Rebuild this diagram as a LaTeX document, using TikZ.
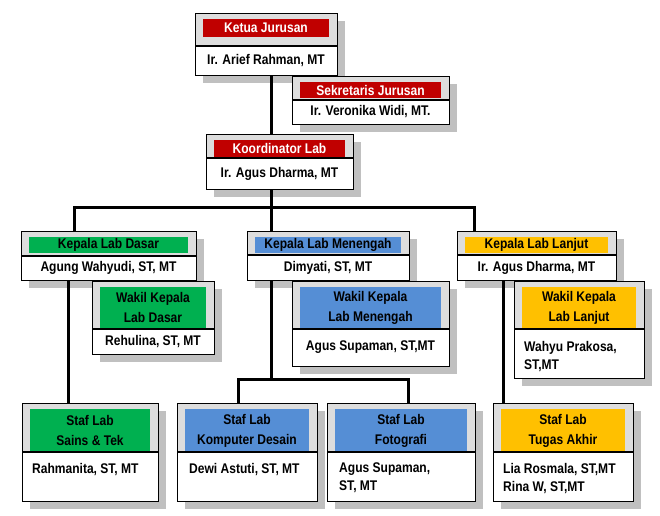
\documentclass[tikz,border=0pt]{standalone}
\usepackage{fontspec}
\setmainfont{Liberation Sans}[FakeStretch=0.86]
\definecolor{redbar}{HTML}{C00000}
\definecolor{greenbar}{HTML}{00B050}
\definecolor{bluebar}{HTML}{558ED5}
\definecolor{yellowbar}{HTML}{FFC000}
\definecolor{headgray}{HTML}{DDDDDD}
\definecolor{shadowgray}{HTML}{C0C0C0}
\pgfdeclarelayer{shadowlayer}
\pgfdeclarelayer{linelayer}
\pgfsetlayers{shadowlayer,linelayer,main}
\tikzset{
  boxframe/.style={draw=black, line width=1.3pt, inner sep=0pt, anchor=north west},
  conn/.style={draw=black, line width=3pt, line cap=rect, line join=miter},
  headtxt/.style={font=\fontsize{14}{20}\selectfont\bfseries, align=center, inner sep=0pt},
  bodytxt/.style={font=\fontsize{14}{18}\selectfont\bfseries, align=center, inner sep=0pt},
  bodyleft/.style={font=\fontsize{14}{18}\selectfont\bfseries, align=left, inner sep=0pt, anchor=north west},
}
% #1 name, #2 x1, #3 y1, #4 x2, #5 ydiv, #6 y2, #7 bar bottom, #8 bar colour, #9 header text
\newcommand\orgbox[9]{%
  \begin{pgfonlayer}{shadowlayer}
    \fill[shadowgray] (#2+8,#3+8) rectangle (#4+8,#6+8);
  \end{pgfonlayer}
  \fill[white] (#2,#3) rectangle (#4,#6);
  \fill[headgray] (#2,#3) rectangle (#4,#5);
  \fill[#8] (#2+8,#3+6) rectangle (#4-8,#7);
  \draw[line width=1.3pt] (#2,#5) -- (#4,#5);
  \node[headtxt] (#1-h) at ({(#2+#4)/2},{(#3+6+#7)/2}) {#9};
  \node[boxframe, minimum width={(#4-#2)*1pt}, minimum height={(#6-#3)*1pt}] (#1) at (#2,#3) {};
}
\begin{document}
\begin{tikzpicture}[x=1pt,y=-1pt]
\useasboundingbox (0,0) rectangle (660,515);

% boxes
\orgbox{ketua}{195}{13}{337}{46}{75}{37}{redbar}{\color{white}Ketua Jurusan}
\node[bodytxt] (ketua-b) at (266,60.5) {Ir. Arief Rahman, MT};

\orgbox{sekretaris}{292}{76}{449}{100}{124}{98}{redbar}{\color{white}Sekretaris Jurusan}
\node[bodytxt] (sekretaris-b) at (370.5,112) {Ir. Veronika Widi, MT.};

\orgbox{koord}{206}{134}{353}{158}{189}{157}{redbar}{\color{white}Koordinator Lab}
\node[bodytxt] (koord-b) at (279.5,173.5) {Ir. Agus Dharma, MT};

\orgbox{dasar}{21}{231}{196}{256}{280}{253}{greenbar}{Kepala Lab Dasar}
\node[bodytxt] (dasar-b) at (108.5,268) {Agung Wahyudi, ST, MT};

\orgbox{wdasar}{92}{281}{214}{329}{354}{328}{greenbar}{Wakil Kepala\\Lab Dasar}
\node[bodytxt] (wdasar-b) at (153,341.5) {Rehulina, ST, MT};

\orgbox{menengah}{247}{231}{409}{255}{280}{253}{bluebar}{Kepala Lab Menengah}
\node[bodytxt] (menengah-b) at (328,267.5) {Dimyati, ST, MT};

\orgbox{wmenengah}{292}{281}{449}{329}{366}{329}{bluebar}{Wakil Kepala\\Lab Menengah}
\node[bodytxt] (wmenengah-b) at (370.5,347.5) {Agus Supaman, ST,MT};

\orgbox{lanjut}{457}{231}{616}{255}{280}{253}{yellowbar}{Kepala Lab Lanjut}
\node[bodytxt] (lanjut-b) at (536.5,267.5) {Ir. Agus Dharma, MT};

\orgbox{wlanjut}{514}{281}{644}{329}{378}{329}{yellowbar}{Wakil Kepala\\Lab Lanjut}
\node[bodyleft] (wlanjut-b) at (524,341) {Wahyu Prakosa,\\ST,MT};

\orgbox{sains}{22}{403}{158}{452}{501}{452}{greenbar}{Staf Lab\\Sains \& Tek}
\node[bodyleft] (sains-b) at (32,463) {Rahmanita, ST, MT};

\orgbox{komputer}{177}{403}{317}{452}{501}{452}{bluebar}{Staf Lab\\Komputer Desain}
\node[bodyleft] (komputer-b) at (189,463) {Dewi Astuti, ST, MT};

\orgbox{foto}{327}{403}{475}{452}{501}{452}{bluebar}{Staf Lab\\Fotografi}
\node[bodyleft] (foto-b) at (339,463) {Agus Supaman,\\ST, MT};

\orgbox{tugas}{493}{403}{633}{452}{501}{452}{yellowbar}{Staf Lab\\Tugas Akhir}
\node[bodyleft] (tugas-b) at (503,463) {Lia Rosmala, ST,MT\\Rina W, ST,MT};

% connectors
\coordinate (trunk) at (271,0);
\coordinate (busL) at (74,207);
\coordinate (busR) at (474,207);
\coordinate (dline) at (68,0);
\coordinate (lline) at (503,0);
\coordinate (mbus) at (271,379);
\coordinate (mbusL) at (238,379);
\coordinate (mbusR) at (408,379);
\begin{pgfonlayer}{linelayer}
  \draw[conn] (ketua.south -| trunk) -- (koord.north -| trunk);
  \draw[conn] (koord.south -| trunk) -- (menengah.north -| trunk);
  \draw[conn] (dasar.north -| busL) -- (busL) -- (busR) -- (lanjut.north -| busR);
  \draw[conn] (dasar.south -| dline) -- (sains.north -| dline);
  \draw[conn] (menengah.south -| trunk) -- (mbus);
  \draw[conn] (komputer.north -| mbusL) -- (mbusL) -- (mbusR) -- (foto.north -| mbusR);
  \draw[conn] (lanjut.south -| lline) -- (tugas.north -| lline);
\end{pgfonlayer}
\end{tikzpicture}
\end{document}
